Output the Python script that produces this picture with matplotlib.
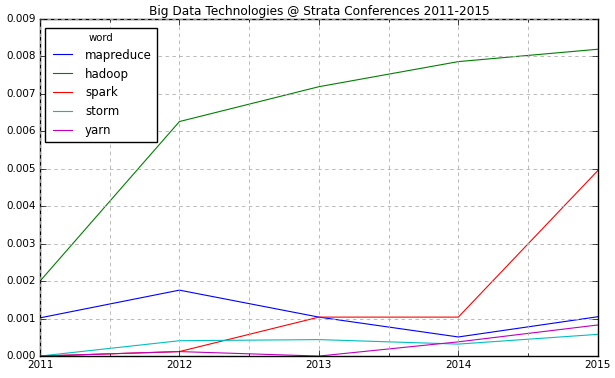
import numpy as np
import matplotlib.pyplot as plt

plt.style.use('classic')

years = [2011, 2012, 2013, 2014, 2015]
mapreduce = [0.00102, 0.00176, 0.00104, 0.00051, 0.00105]
hadoop = [0.00200, 0.00626, 0.00719, 0.00786, 0.00819]
spark = [0.00000, 0.00012, 0.00104, 0.00104, 0.00495]
storm = [0.00000, 0.00041, 0.00044, 0.00032, 0.00058]
yarn = [0.00000, 0.00012, 0.00000, 0.00038, 0.00083]

series = [('mapreduce', mapreduce, 'b'), ('hadoop', hadoop, 'g'),
          ('spark', spark, 'r'), ('storm', storm, 'c'), ('yarn', yarn, 'm')]

fig, ax = plt.subplots(figsize=(6.15, 3.78), dpi=100)
fig.subplots_adjust(left=0.065, right=0.972, top=0.95, bottom=0.058)

for name, vals, c in series:
    ax.plot(years, vals, color=c, label=name, linewidth=0.8)

ax.set_xlim(2011, 2015)
ax.set_ylim(0, 0.009)
ax.set_xticks(years)
ax.set_xticklabels([str(y) for y in years])
ax.set_xticks(np.arange(2011.5, 2015, 1), minor=True)
ax.tick_params(axis='both', labelsize=7.5, pad=3)
ax.grid(True, which='both', color='#b0b0b0', linestyle=(0, (2.5, 2.5)), linewidth=0.6)
ax.set_title('Big Data Technologies @ Strata Conferences 2011-2015', fontsize=8.7, pad=3)
leg = ax.legend(loc='upper left', title='word', fontsize=8.5, handlelength=2.2,
                borderaxespad=0, bbox_to_anchor=(0.009, 0.973))
leg.get_title().set_fontsize(7.3)

fig.savefig('out.png', dpi=100)
